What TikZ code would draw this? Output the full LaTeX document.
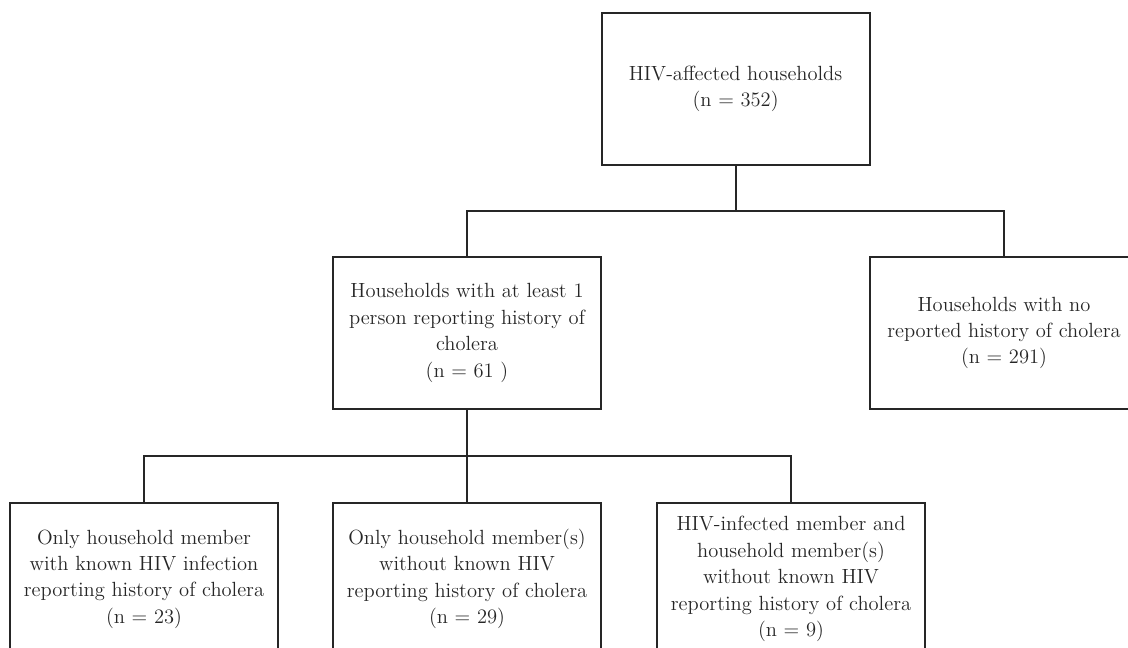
\documentclass[tikz,border=0pt]{standalone}
\usetikzlibrary{positioning}

\begin{document}
\begin{tikzpicture}
    \useasboundingbox (0,0) rectangle (28.2,-16.2);
    \clip (0,0) rectangle (28.2,-16.2);

    \begin{scope}[every node/.style={rectangle, draw=black!85, text=black!85, line width=1.3pt, minimum width=6.7cm, minimum height=3.8cm, align=center, inner sep=0pt, font=\fontsize{14.6}{18.8}\selectfont}]
        \node (hh) at (18.39,-2.225) {HIV-affected households\\(n = 352)};
        \node (chol) at (11.675,-8.325) {Households with at least 1\\person reporting history of\\cholera\\(n = 61 )};
        \node (nochol) at (25.1,-8.325) {Households with no\\reported history of cholera\\(n = 291)};
        \node (only) at (3.6,-14.475) {Only household member\\with known HIV infection\\reporting history of cholera\\(n = 23)};
        \node (other) at (11.675,-14.475) {Only household member(s)\\without known HIV\\reporting history of cholera\\(n = 29)};
        \node (both) at (19.775,-14.475) {HIV-infected member and\\household member(s)\\without known HIV\\reporting history of cholera\\(n = 9)};
    \end{scope}

    \coordinate (j1) at (18.39,-5.275);
    \coordinate (j2) at (11.675,-11.4);

    \begin{scope}[every edge/.style={draw=black!85, line width=1.3pt}, elbow/.style={to path={-| (\tikztotarget)}}]
        \path [-] (hh) edge (j1);
        \path [-] (j1) edge[elbow] (chol.north);
        \path [-] (j1) edge[elbow] (nochol.north);
        \path [-] (chol) edge (j2);
        \path [-] (j2) edge[elbow] (only.north);
        \path [-] (j2) edge (other);
        \path [-] (j2) edge[elbow] (both.north);
    \end{scope}
\end{tikzpicture}
\end{document}
